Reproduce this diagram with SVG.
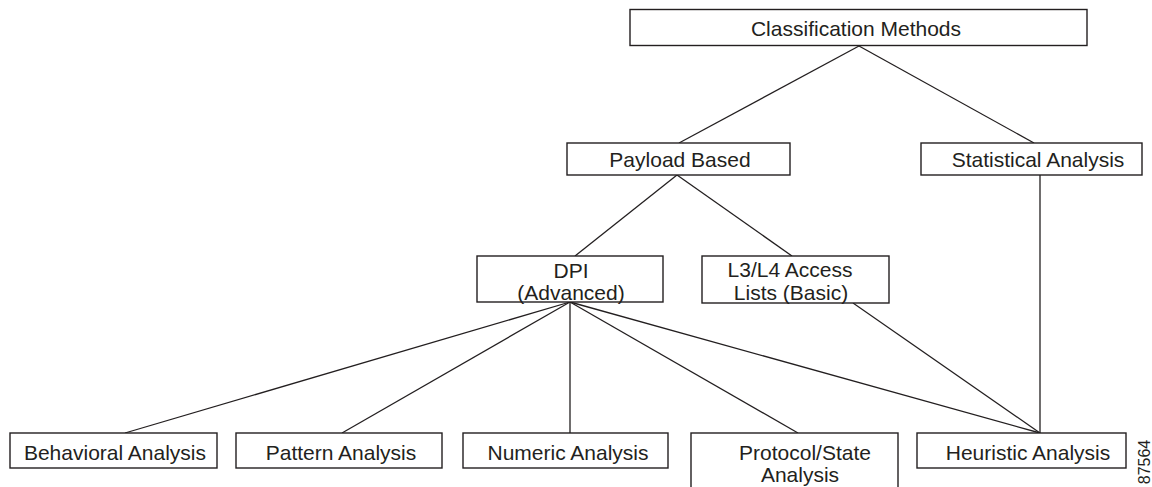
<svg xmlns="http://www.w3.org/2000/svg" width="1152" height="487" viewBox="0 0 1152 487">
<style>
.box{fill:#fff;stroke:#231f20;stroke-width:1.4}
.t{font-family:"Liberation Sans",Arial,sans-serif;font-size:21px;fill:#231f20;text-anchor:middle;dominant-baseline:central}
.c line{stroke:#231f20;stroke-width:1.3}
.id{font-family:"Liberation Sans",Arial,sans-serif;font-size:16px;fill:#231f20;text-anchor:middle}
</style>
<g class="c" id="connectors">
<line x1="859" y1="46" x2="679" y2="143"/>
<line x1="859" y1="46" x2="1034" y2="143"/>
<line x1="677" y1="175" x2="575" y2="256"/>
<line x1="677" y1="175" x2="792" y2="256"/>
<line x1="1040" y1="175" x2="1040" y2="433"/>
<line x1="570" y1="302" x2="125" y2="433"/>
<line x1="570" y1="302" x2="342" y2="433"/>
<line x1="570" y1="302" x2="570" y2="433"/>
<line x1="570" y1="302" x2="798" y2="433"/>
<line x1="570" y1="302" x2="1040" y2="433"/>
<line x1="853" y1="303" x2="1040" y2="433"/>
</g>
<g id="classification">
<rect class="box" x="630" y="9.5" width="457" height="36"/>
<text class="t" x="856" y="28">Classification Methods</text>
</g>
<g id="payload">
<rect class="box" x="567" y="143" width="223" height="32"/>
<text class="t" x="680" y="159">Payload Based</text>
</g>
<g id="statistical">
<rect class="box" x="921" y="143" width="221" height="32"/>
<text class="t" x="1038" y="159">Statistical Analysis</text>
</g>
<g id="dpi">
<rect class="box" x="477" y="256" width="186" height="46"/>
<text class="t" x="571" y="270">DPI</text>
<text class="t" x="571" y="292">(Advanced)</text>
</g>
<g id="l3l4">
<rect class="box" x="702" y="256" width="187" height="47"/>
<text class="t" x="790" y="269">L3/L4 Access</text>
<text class="t" x="791" y="292">Lists (Basic)</text>
</g>
<g id="behavioral">
<rect class="box" x="10" y="433" width="207" height="35"/>
<text class="t" x="115" y="452">Behavioral Analysis</text>
</g>
<g id="pattern">
<rect class="box" x="236" y="433" width="206" height="35"/>
<text class="t" x="341" y="452">Pattern Analysis</text>
</g>
<g id="numeric">
<rect class="box" x="463" y="433" width="205" height="35"/>
<text class="t" x="568" y="452">Numeric Analysis</text>
</g>
<g id="protocol">
<rect class="box" x="691" y="433" width="207" height="60"/>
<text class="t" x="805" y="452">Protocol/State</text>
<text class="t" x="800" y="474">Analysis</text>
</g>
<g id="heuristic">
<rect class="box" x="917" y="433" width="209" height="35"/>
<text class="t" x="1028" y="452">Heuristic Analysis</text>
</g>
<text class="id" transform="translate(1150,462) rotate(-90)">87564</text>
</svg>
